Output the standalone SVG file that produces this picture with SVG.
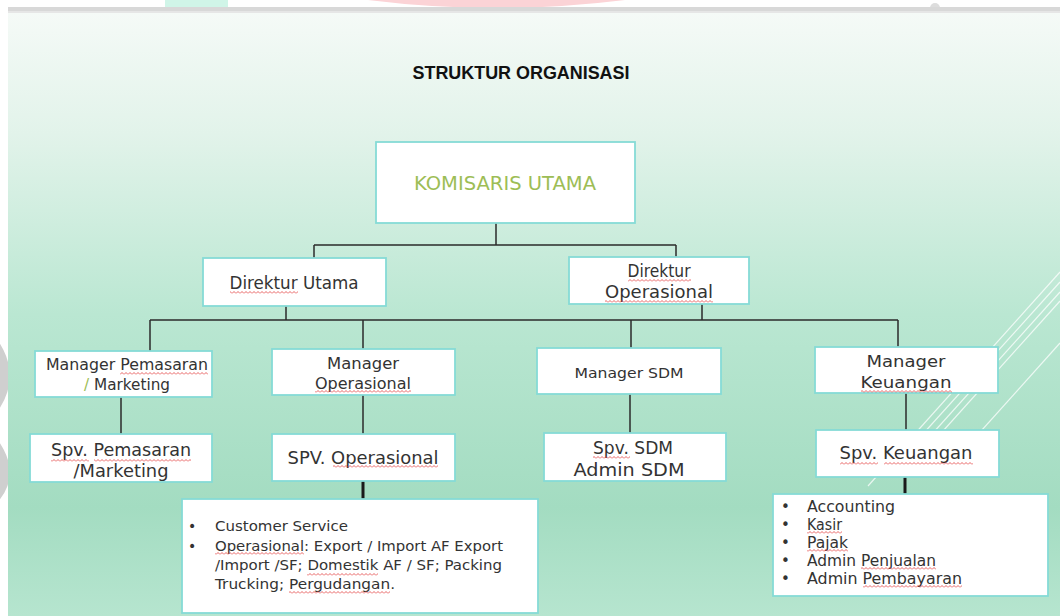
<svg xmlns="http://www.w3.org/2000/svg" width="1060" height="616" viewBox="0 0 1060 616">
<defs>
<linearGradient id="bg" x1="0" y1="0" x2="0" y2="1">
<stop offset="0" stop-color="#f5faf7"/>
<stop offset="0.2" stop-color="#e2f3ea"/>
<stop offset="0.5" stop-color="#bae7d2"/>
<stop offset="0.82" stop-color="#a3dcc1"/>
<stop offset="1" stop-color="#b6e5cf"/>
</linearGradient>
<pattern id="wavy" x="0" y="0" width="4" height="3" patternUnits="userSpaceOnUse">
<path d="M0,2.5 L2,0.5 L4,2.5" stroke="#e23b3b" stroke-width="0.8" fill="none"/>
</pattern>
<style>
.box{fill:#ffffff;stroke:#86dbd6;stroke-width:1.8}
.ln{stroke:#2b2b2b;stroke-width:1.5;fill:none}
.thick{stroke:#1a1a1a;stroke-width:3;fill:none}
.t{font-family:"DejaVu Sans","Liberation Sans",sans-serif;fill:#333333;text-anchor:middle}
.tl{font-family:"DejaVu Sans","Liberation Sans",sans-serif;fill:#333333}
.sq{fill:url(#wavy)}
.deco{stroke:#ffffff;stroke-width:1.2;opacity:0.75;fill:none}
</style>
</defs>
<rect x="0" y="0" width="1060" height="616" fill="#ffffff"/>
<rect x="165" y="0" width="63" height="8" fill="#d0f5e8"/>
<path d="M368,0 Q496,16 625,0 Z" fill="#fbd3d6"/>
<circle cx="935" cy="8" r="5" fill="#dddddd"/>
<path d="M-20,330 Q20,370 -10,410" stroke="#cfcfcf" stroke-width="14" fill="none"/>
<path d="M-20,430 Q20,470 -10,500" stroke="#cfcfcf" stroke-width="14" fill="none"/>
<rect x="8" y="13" width="1052" height="603" fill="url(#bg)"/>
<rect x="8" y="7" width="1052" height="6" fill="#d8d8d8"/>
<rect x="8" y="11" width="1052" height="2" fill="#e6e6e6"/>

<g id="decor">
<line class="deco" x1="1060" y1="272" x2="868" y2="486"/>
<line class="deco" x1="1060" y1="282" x2="885" y2="476"/>
<line class="deco" x1="1060" y1="292" x2="905" y2="464"/>
<line class="deco" x1="1060" y1="301" x2="925" y2="451"/>
<line class="deco" x1="1060" y1="343" x2="955" y2="460"/>
</g>

<text x="521" y="79" font-family="Liberation Sans, Arial, sans-serif" font-weight="bold" font-size="19" text-anchor="middle" fill="#111111" textLength="217" lengthAdjust="spacingAndGlyphs">STRUKTUR ORGANISASI</text>

<g id="connectors">
<path class="ln" d="M496,223 V245 M314,245 H676 M314,245 V258 M676,245 V257"/>
<path class="ln" d="M286,306 V320 M702,304 V320 M150,320 H898 M150,320 V351 M363,320 V349 M631,320 V348 M898,320 V347"/>
<path class="ln" d="M121,397 V434 M363,395 V434 M630,394 V433 M906,393 V430"/>
<path class="thick" d="M363,481 V499 M905,477 V494"/>
</g>

<g id="komisaris">
<rect class="box" x="376" y="142" width="259" height="81"/>
<text class="t" x="505" y="190" font-size="19" style="fill:#9dbd55" textLength="182" lengthAdjust="spacingAndGlyphs">KOMISARIS UTAMA</text>
</g>

<g id="direktur-utama">
<rect class="box" x="203" y="258" width="183" height="48"/>
<text class="t" x="294" y="289" font-size="17" textLength="129" lengthAdjust="spacingAndGlyphs">Direktur Utama</text>
<rect class="sq" x="230" y="291" width="68" height="3"/>
</g>

<g id="direktur-operasional">
<rect class="box" x="569" y="257" width="180" height="47"/>
<text class="t" x="659" y="277" font-size="17" textLength="63" lengthAdjust="spacingAndGlyphs">Direktur</text>
<text class="t" x="659" y="298" font-size="17" textLength="108" lengthAdjust="spacingAndGlyphs">Operasional</text>
<rect class="sq" x="628" y="279" width="63" height="3"/>
<rect class="sq" x="605" y="300" width="108" height="3"/>
</g>

<g id="manager-pemasaran">
<rect class="box" x="35" y="351" width="177" height="46"/>
<text class="t" x="127" y="370" font-size="15" textLength="162" lengthAdjust="spacingAndGlyphs">Manager Pemasaran</text>
<text class="t" x="127" y="390" font-size="15" textLength="86" lengthAdjust="spacingAndGlyphs"><tspan style="fill:#9dbd55">/</tspan> Marketing</text>
<rect class="sq" x="120" y="372" width="88" height="3"/>
</g>

<g id="manager-operasional">
<rect class="box" x="272" y="349" width="183" height="46"/>
<text class="t" x="363" y="369" font-size="15" textLength="72" lengthAdjust="spacingAndGlyphs">Manager</text>
<text class="t" x="363" y="389" font-size="15" textLength="96" lengthAdjust="spacingAndGlyphs">Operasional</text>
<rect class="sq" x="315" y="390" width="96" height="3"/>
</g>

<g id="manager-sdm">
<rect class="box" x="537" y="348" width="184" height="46"/>
<text class="t" x="629" y="378" font-size="14" textLength="109" lengthAdjust="spacingAndGlyphs">Manager SDM</text>
</g>

<g id="manager-keuangan">
<rect class="box" x="815" y="347" width="183" height="46"/>
<text class="t" x="906" y="367" font-size="16" textLength="79" lengthAdjust="spacingAndGlyphs">Manager</text>
<text class="t" x="906" y="388" font-size="16" textLength="91" lengthAdjust="spacingAndGlyphs">Keuangan</text>
<rect class="sq" x="861" y="390" width="91" height="3"/>
</g>

<g id="spv-pemasaran">
<rect class="box" x="30" y="434" width="182" height="48"/>
<text class="t" x="121" y="456" font-size="17" textLength="140" lengthAdjust="spacingAndGlyphs">Spv. Pemasaran</text>
<text class="t" x="121" y="477" font-size="17" textLength="95" lengthAdjust="spacingAndGlyphs">/Marketing</text>
<rect class="sq" x="51" y="459" width="38" height="3"/>
<rect class="sq" x="94" y="459" width="97" height="3"/>
</g>

<g id="spv-operasional">
<rect class="box" x="272" y="434" width="183" height="47"/>
<text class="t" x="363" y="464" font-size="17" textLength="151" lengthAdjust="spacingAndGlyphs">SPV. Operasional</text>
<rect class="sq" x="333" y="465" width="105" height="3"/>
</g>

<g id="spv-sdm">
<rect class="box" x="544" y="433" width="182" height="48"/>
<text class="t" x="633" y="454" font-size="17" textLength="80" lengthAdjust="spacingAndGlyphs">Spv. SDM</text>
<text class="t" x="629" y="476" font-size="17" textLength="111" lengthAdjust="spacingAndGlyphs">Admin SDM</text>
<rect class="sq" x="593" y="456" width="37" height="3"/>
</g>

<g id="spv-keuangan">
<rect class="box" x="816" y="430" width="183" height="47"/>
<text class="t" x="906" y="459" font-size="17" textLength="133" lengthAdjust="spacingAndGlyphs">Spv. Keuangan</text>
<rect class="sq" x="840" y="462" width="38" height="3"/>
<rect class="sq" x="884" y="462" width="89" height="3"/>
</g>

<g id="tugas-operasional">
<rect class="box" x="182" y="499" width="356" height="114"/>
<text class="tl" x="188" y="531" font-size="14">•</text>
<text class="tl" x="188" y="551" font-size="14">•</text>
<text class="tl" x="215" y="531" font-size="14" textLength="133" lengthAdjust="spacingAndGlyphs">Customer Service</text>
<text class="tl" x="215" y="551" font-size="14" textLength="288" lengthAdjust="spacingAndGlyphs">Operasional: Export / Import AF Export</text>
<text class="tl" x="215" y="570" font-size="14" textLength="287" lengthAdjust="spacingAndGlyphs">/Import /SF; Domestik AF / SF; Packing</text>
<text class="tl" x="215" y="589" font-size="14" textLength="180" lengthAdjust="spacingAndGlyphs">Trucking; Pergudangan.</text>
<rect class="sq" x="215" y="552" width="89" height="3"/>
<rect class="sq" x="307" y="573" width="71" height="3"/>
<rect class="sq" x="289" y="591" width="101" height="3"/>
</g>

<g id="tugas-keuangan">
<rect class="box" x="773" y="494" width="275" height="102"/>
<text class="tl" x="781" y="512" font-size="15">•</text>
<text class="tl" x="781" y="530" font-size="15">•</text>
<text class="tl" x="781" y="548" font-size="15">•</text>
<text class="tl" x="781" y="566" font-size="15">•</text>
<text class="tl" x="781" y="584" font-size="15">•</text>
<text class="tl" x="807" y="512" font-size="15" textLength="88" lengthAdjust="spacingAndGlyphs">Accounting</text>
<text class="tl" x="807" y="530" font-size="15" textLength="35" lengthAdjust="spacingAndGlyphs">Kasir</text>
<text class="tl" x="807" y="548" font-size="15" textLength="41" lengthAdjust="spacingAndGlyphs">Pajak</text>
<text class="tl" x="807" y="566" font-size="15" textLength="129" lengthAdjust="spacingAndGlyphs">Admin Penjualan</text>
<text class="tl" x="807" y="584" font-size="15" textLength="155" lengthAdjust="spacingAndGlyphs">Admin Pembayaran</text>
<rect class="sq" x="807" y="531" width="35" height="3"/>
<rect class="sq" x="807" y="549" width="41" height="3"/>
<rect class="sq" x="861" y="567" width="75" height="3"/>
<rect class="sq" x="863" y="585" width="99" height="3"/>
</g>
</svg>
